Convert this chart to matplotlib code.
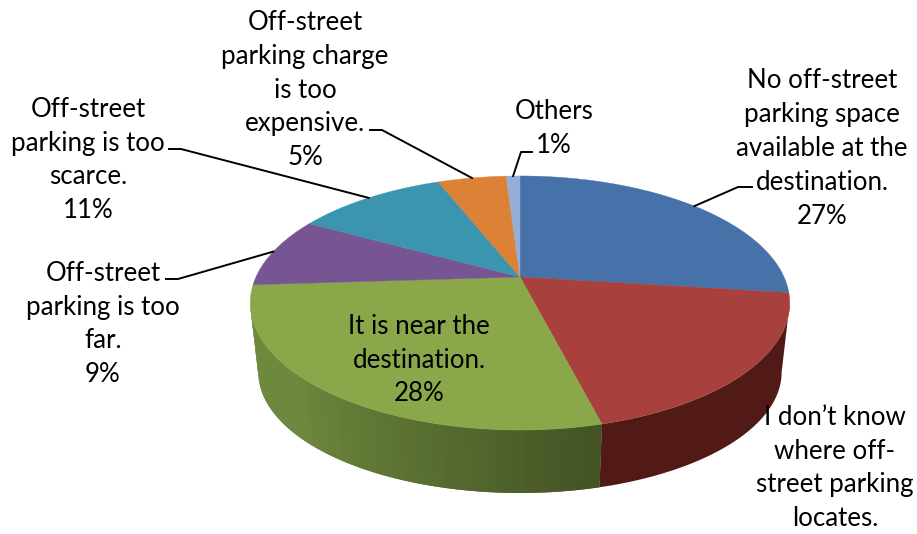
import numpy as np
import matplotlib
matplotlib.use('Agg')
import matplotlib.pyplot as plt
from matplotlib.collections import PolyCollection

plt.rcParams['font.family'] = ['Lato', 'DejaVu Sans']

shares = [27, 19, 28, 9, 11, 5, 1]
top_colors = ['#4672a9', '#a8413e', '#8aa84a', '#775592', '#3c95ae', '#dc8236', '#94aed8']
red_rim = '#511a17'
green_rim = '#6e883d'

label_texts = ['No off-street\nparking space\navailable at the\ndestination.\n27%',
               'I don\u2019t know\nwhere off-\nstreet parking\nlocates.',
               'It is near the\ndestination.\n28%',
               'Off-street\nparking is too\nfar.\n9%',
               'Off-street\nparking is too\nscarce.\n11%',
               'Off-street\nparking charge\nis too\nexpensive.\n5%',
               'Others\n1%']
label_pos = [(822, 148.5), (835, 468), (419, 360), (103, 324), (88, 160), (305, 90), (554, 128.5)]
# where the elbow of each leader starts: (text end, bend); None = no leader
leaders = [((752, 187), (738, 187)), None, None,
           ((166, 279), (178, 279)), ((169, 149), (181, 149)),
           ((370, 130), (382, 130)), ((532, 152), (521, 152))]

# perspective disc in pixel space
cx, cy = 520, 277
rx, tilt, lean = 264, -65, 0.2047
low_x, low_y, drop = 0.97, 0.95, 70.6


def top_xy(theta):
    u, v = np.sin(theta), np.cos(theta)
    den = 1 + lean * v
    return cx + rx * u / den, (tilt * v + cy) / den


def low_xy(theta):
    x, y = top_xy(theta)
    return cx + (x - cx) * low_x, cy + (y - cy) * low_y + drop


def rim_band(t0, t1, n=2):
    a = np.linspace(t0, t1, n)
    x0, y0 = top_xy(a)
    x1, y1 = low_xy(a[::-1])
    return np.c_[np.r_[x0, x1], np.r_[y0, y1]]


edges = np.radians(np.cumsum([0] + shares) * 3.6)
# widest point of the disc, the rim folds behind the top face past here
fold = np.arccos(-lean)

fig = plt.figure(figsize=(9.17, 5.34), dpi=100)
ax = fig.add_axes([0, 0, 1, 1])
ax.set_xlim(0, 917)
ax.set_ylim(534, 0)
ax.axis('off')

# rim first, the top face covers whatever is behind it
# only the red and green slices show a rim from this viewpoint
ax.fill(*rim_band(fold, edges[2], 60).T, color=red_rim, lw=0)

left_end = 2 * np.pi - fold
steps = np.linspace(left_end, edges[2], 70)
quads, colors = [], []
for j in range(len(steps) - 1):
    end = steps[min(j + 2, len(steps) - 1)]
    quads.append(rim_band(steps[j], end, 3))
    t = (steps[j] - edges[2]) / (left_end - edges[2])
    colors.append(np.array(matplotlib.colors.to_rgb(green_rim)) * (0.6 + 0.4 * min(t * 1.5, 1)))
ax.add_collection(PolyCollection(quads, facecolors=colors, edgecolors='none'))

# top face
for i in range(len(shares)):
    a = np.linspace(edges[i], edges[i + 1], max(8, shares[i] * 6))
    x, y = top_xy(a)
    ax.fill(np.r_[cx, x], np.r_[cy, y], color=top_colors[i], lw=0.3, zorder=3)

# leaders run to the rim at the middle of each slice
for i in range(len(shares)):
    if leaders[i] is None:
        continue
    mid = (edges[i] + edges[i + 1]) / 2
    rim = top_xy(mid)
    xs = [leaders[i][0][0], leaders[i][1][0], rim[0]]
    ys = [leaders[i][0][1], leaders[i][1][1], rim[1]]
    ax.plot(xs, ys, color='black', lw=1.4, zorder=4, solid_joinstyle='round')

for txt, pos in zip(label_texts, label_pos):
    ax.text(pos[0], pos[1], txt, ha='center', va='center', multialignment='center',
            fontsize=18.6, linespacing=1.44, color='black', zorder=5)

fig.savefig('out.png', dpi=100)
